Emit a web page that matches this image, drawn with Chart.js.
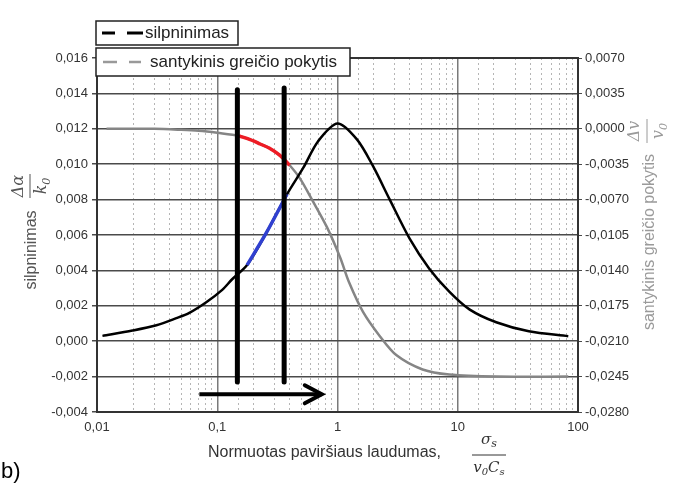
<!DOCTYPE html>
<html>
<head>
<meta charset="utf-8">
<script src="https://cdn.jsdelivr.net/npm/chart.js@4/dist/chart.umd.min.js"></script>
<style>
  html, body { margin: 0; padding: 0; background: #fff; }
  #wrap { position: relative; width: 678px; height: 493px; }
</style>
</head>
<body>
<div id="wrap"><canvas id="chart" width="678" height="493"></canvas></div>
<script>
// attenuation curve (left axis)
const attenX = [0.0111, 0.0197, 0.0312, 0.0457, 0.0586, 0.081, 0.11, 0.133, 0.177, 0.255, 0.38, 0.52, 0.69, 1.0, 1.45, 1.97, 2.72, 3.98, 5.8, 8.5, 12.5, 20.9, 39, 83];
const attenY = [0.0003, 0.0006, 0.0009, 0.0013, 0.0016, 0.0022, 0.0029, 0.0035, 0.0043, 0.0061, 0.0083, 0.0098, 0.0113, 0.0123, 0.0114, 0.0099, 0.0080, 0.0058, 0.0041, 0.0028, 0.0018, 0.00107, 0.00056, 0.00028];
// relative velocity change (right axis)
const velX = [0.012, 0.03, 0.05, 0.07, 0.1, 0.152, 0.2, 0.227, 0.27, 0.33, 0.40, 0.487, 0.62, 0.815, 1.05, 1.25, 1.63, 2.25, 3.1, 5.1, 8.5, 21, 83];
const velY = [0, 0, -0.0001, -0.0002, -0.0004, -0.0007, -0.0012, -0.0015, -0.0019, -0.0026, -0.0036, -0.0049, -0.0071, -0.0097, -0.0127, -0.0152, -0.0181, -0.0205, -0.0224, -0.0238, -0.0243, -0.0245, -0.0245];
// highlighted parts
const redX = [0.152, 0.2, 0.227, 0.27, 0.33, 0.40];
const redY = [-0.0007, -0.0012, -0.0015, -0.0019, -0.0026, -0.0036];
const blueX = [0.177, 0.255, 0.38];
const blueY = [0.0043, 0.0061, 0.0083];
// markers
const markX = [0.147, 0.36];
const markTop = [0.0142, 0.0143];
const markBottom = [-0.0023, -0.0023];
const arrowX = [0.071, 0.74];
const arrowY = [-0.003, -0.003];

const leftTicks = { min: -0.004, max: 0.016, step: 0.002 };
const rightTicks = { min: -0.028, max: 0.007, step: 0.0035 };
const xRange = { min: 0.01, max: 100 };

const FONT = "'Liberation Sans', Arial, sans-serif";
const MATH = "'DejaVu Serif', 'Liberation Serif', serif";

function pts(xs, ys) {
    return xs.map((x, i) => ({ x, y: ys[i] }));
}
function isDecade(v) {
    const l = Math.log10(v);
    return Math.abs(l - Math.round(l)) < 1e-6;
}
function comma(v, d) {
    if (Math.abs(v) < 1e-9) v = 0;
    return v.toFixed(d).replace('.', ',');
}

const lineBase = { pointRadius: 0, fill: false, tension: 0.3 };

const datasets = [
    Object.assign({ label: 'santykinis greičio pokytis', data: pts(velX, velY), yAxisID: 'y2',
        borderColor: '#858585', borderWidth: 2.5, order: 6 }, lineBase),
    Object.assign({ label: 'silpninimas', data: pts(attenX, attenY), yAxisID: 'y',
        borderColor: '#000', borderWidth: 2.5, order: 5 }, lineBase),
    Object.assign({ label: 'red', data: pts(redX, redY), yAxisID: 'y2',
        borderColor: '#ee1c25', borderWidth: 3.5, order: 4 }, lineBase),
    Object.assign({ label: 'blue', data: pts(blueX, blueY), yAxisID: 'y',
        borderColor: '#3040d0', borderWidth: 3.5, order: 3 }, lineBase)
];
markX.forEach((mx, i) => {
    datasets.push({ label: 'mark' + i, data: pts([mx, mx], [markTop[i], markBottom[i]]), yAxisID: 'y',
        borderColor: '#000', borderWidth: 5, borderCapStyle: 'round', pointRadius: 0, order: 2 });
});
datasets.push({ label: 'arrow', data: pts(arrowX, arrowY), yAxisID: 'y',
    borderColor: '#000', borderWidth: 4, pointRadius: 0, order: 1 });

function drawSub(ctx, base, sub, x, y, size, align) {
    // base + subscript, x is the centre when align is 'center'
    ctx.font = 'italic ' + size + 'px ' + MATH;
    const wb = ctx.measureText(base).width;
    ctx.font = 'italic ' + Math.round(size * 0.7) + 'px ' + MATH;
    const ws = sub ? ctx.measureText(sub).width : 0;
    let sx = align === 'center' ? x - (wb + ws) / 2 : x;
    ctx.textAlign = 'left';
    ctx.font = 'italic ' + size + 'px ' + MATH;
    ctx.fillText(base, sx, y);
    if (sub) {
        ctx.font = 'italic ' + Math.round(size * 0.7) + 'px ' + MATH;
        ctx.fillText(sub, sx + wb, y + size * 0.3);
    }
}

const decorPlugin = {
    id: 'decor',
    afterDatasetsDraw(chart) {
        const ctx = chart.ctx;
        const a = chart.chartArea;
        ctx.save();
        // plot frame
        ctx.strokeStyle = '#333';
        ctx.lineWidth = 2;
        ctx.strokeRect(a.left, a.top, a.right - a.left, a.bottom - a.top);

        // arrow head
        const meta = chart.getDatasetMeta(datasets.length - 1);
        const tip = meta.data[1];
        ctx.strokeStyle = '#000';
        ctx.lineWidth = 4;
        ctx.lineCap = 'round';
        ctx.beginPath();
        ctx.moveTo(tip.x - 17, tip.y - 9);
        ctx.lineTo(tip.x, tip.y);
        ctx.lineTo(tip.x - 17, tip.y + 9);
        ctx.stroke();

        // legend boxes
        ctx.lineCap = 'butt';
        const boxes = [
            { x: 96, y: 21, w: 142, h: 24, color: '#000', lw: 3, text: 'silpninimas', tx: 145, dashes: [[102, 115], [127, 143]] },
            { x: 96, y: 48, w: 254, h: 28, color: '#999', lw: 2.5, text: 'santykinis greičio pokytis', tx: 150, dashes: [[103, 117], [129, 141]] }
        ];
        boxes.forEach(b => {
            ctx.fillStyle = '#fff';
            ctx.fillRect(b.x, b.y, b.w, b.h);
            ctx.strokeStyle = '#222';
            ctx.lineWidth = 1.5;
            ctx.strokeRect(b.x, b.y, b.w, b.h);
            const cy = b.y + b.h / 2;
            ctx.strokeStyle = b.color;
            ctx.lineWidth = b.lw;
            b.dashes.forEach(d => {
                ctx.beginPath();
                ctx.moveTo(d[0], cy);
                ctx.lineTo(d[1], cy);
                ctx.stroke();
            });
            ctx.fillStyle = '#222';
            ctx.font = '17px ' + FONT;
            ctx.textAlign = 'left';
            ctx.textBaseline = 'middle';
            ctx.fillText(b.text, b.tx, cy);
        });

        // left axis title
        ctx.save();
        ctx.translate(32, 250);
        ctx.rotate(-Math.PI / 2);
        ctx.fillStyle = '#555';
        ctx.font = '16px ' + FONT;
        ctx.textAlign = 'center';
        ctx.textBaseline = 'middle';
        ctx.fillText('silpninimas', 0, 0);
        drawSub(ctx, 'Δα', '', 64, -13, 16, 'center');
        ctx.strokeStyle = '#555';
        ctx.lineWidth = 1;
        ctx.beginPath(); ctx.moveTo(52, -2); ctx.lineTo(76, -2); ctx.stroke();
        drawSub(ctx, 'k', '0', 64, 10, 16, 'center');
        ctx.restore();

        // right axis title
        ctx.save();
        ctx.translate(650, 242);
        ctx.rotate(-Math.PI / 2);
        ctx.fillStyle = '#9a9a9a';
        ctx.font = '16px ' + FONT;
        ctx.textAlign = 'center';
        ctx.textBaseline = 'middle';
        ctx.fillText('santykinis greičio pokytis', 0, 0);
        drawSub(ctx, 'Δv', '', 111, -15, 16, 'center');
        ctx.strokeStyle = '#9a9a9a';
        ctx.lineWidth = 1;
        ctx.beginPath(); ctx.moveTo(99, -3); ctx.lineTo(123, -3); ctx.stroke();
        drawSub(ctx, 'v', '0', 111, 9, 16, 'center');
        ctx.restore();

        // x axis title
        ctx.fillStyle = '#333';
        ctx.font = '16px ' + FONT;
        ctx.textAlign = 'left';
        ctx.textBaseline = 'middle';
        ctx.fillText('Normuotas paviršiaus laudumas,', 208, 453);
        drawSub(ctx, 'σ', 's', 489, 440, 15, 'center');
        ctx.strokeStyle = '#333';
        ctx.lineWidth = 1;
        ctx.beginPath(); ctx.moveTo(472, 455); ctx.lineTo(506, 455); ctx.stroke();
        ctx.font = 'italic 15px ' + MATH;
        const w1 = ctx.measureText('v').width;
        const w3 = ctx.measureText('C').width;
        ctx.font = 'italic 10px ' + MATH;
        const w2 = ctx.measureText('0').width;
        const w4 = ctx.measureText('s').width;
        let px = 489 - (w1 + w2 + w3 + w4) / 2;
        ctx.font = 'italic 15px ' + MATH; ctx.fillText('v', px, 468); px += w1;
        ctx.font = 'italic 10px ' + MATH; ctx.fillText('0', px, 472); px += w2;
        ctx.font = 'italic 15px ' + MATH; ctx.fillText('C', px, 468); px += w3;
        ctx.font = 'italic 10px ' + MATH; ctx.fillText('s', px, 472);

        // panel label
        ctx.fillStyle = '#000';
        ctx.font = '22px ' + FONT;
        ctx.textBaseline = 'alphabetic';
        ctx.fillText('b)', 1, 478);
        ctx.restore();
    }
};

new Chart(document.getElementById('chart'), {
    type: 'line',
    data: { datasets },
    options: {
        responsive: false,
        animation: false,
        layout: { padding: { top: 58, left: 0, right: 0, bottom: 0 } },
        plugins: { legend: { display: false }, tooltip: { enabled: false } },
        scales: {
            x: {
                type: 'logarithmic',
                position: 'bottom',
                min: xRange.min,
                max: xRange.max,
                afterFit: s => { s.height = 81; },
                grid: {
                    color: c => (c.tick && isDecade(c.tick.value)) ? '#7a7a7a' : 'rgba(0,0,0,0)',
                    lineWidth: 1.5,
                    drawTicks: false
                },
                border: { display: false },
                ticks: {
                    autoSkip: false,
                    maxRotation: 0,
                    padding: 8,
                    color: '#333',
                    font: { family: FONT, size: 13 },
                    callback: v => isDecade(v) ? (v >= 1 ? String(Math.round(v)) : comma(v, Math.round(-Math.log10(v)))) : ''
                }
            },
            xMinor: {
                type: 'logarithmic',
                position: 'bottom',
                min: xRange.min,
                max: xRange.max,
                afterFit: s => { s.height = 0; },
                grid: {
                    color: c => (c.tick && isDecade(c.tick.value)) ? 'rgba(0,0,0,0)' : '#b5b5b5',
                    lineWidth: 1,
                    drawTicks: false
                },
                border: { display: false, dash: [2, 3] },
                ticks: { display: false, autoSkip: false }
            },
            y: {
                position: 'left',
                min: leftTicks.min,
                max: leftTicks.max,
                afterFit: s => { s.width = 97; },
                grid: { color: '#4a4a4a', lineWidth: 1.5, tickLength: 5, tickColor: '#4a4a4a' },
                border: { display: false },
                ticks: {
                    stepSize: leftTicks.step,
                    padding: 4,
                    color: '#333',
                    font: { family: FONT, size: 13 },
                    callback: v => comma(v, 3)
                }
            },
            y2: {
                position: 'right',
                min: rightTicks.min,
                max: rightTicks.max,
                afterFit: s => { s.width = 100; },
                grid: { drawOnChartArea: false, tickLength: 4, tickColor: '#4a4a4a' },
                border: { display: false },
                ticks: {
                    stepSize: rightTicks.step,
                    padding: 3,
                    color: '#333',
                    font: { family: FONT, size: 13 },
                    callback: v => comma(v, 4)
                }
            }
        }
    },
    plugins: [decorPlugin]
});
</script>
</body>
</html>
